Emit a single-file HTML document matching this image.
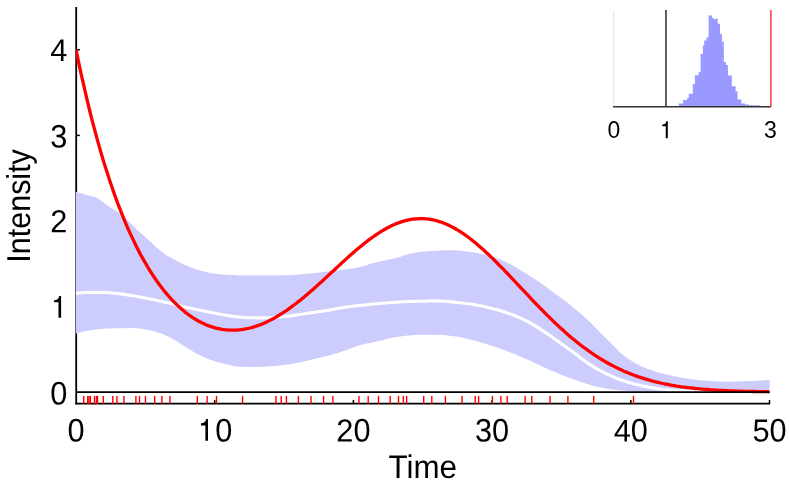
<!DOCTYPE html>
<html><head><meta charset="utf-8"><style>
html,body{margin:0;padding:0;background:#fff;}
svg{display:block;will-change:transform;font-family:"Liberation Sans",sans-serif;}
</style></head><body>
<svg width="789" height="487" viewBox="0 0 789 487">
<rect width="789" height="487" fill="#fff"/>
<defs><clipPath id="c"><rect x="75.8" y="0" width="694.0" height="487"/></clipPath></defs>
<g stroke="#000" stroke-width="1.8" fill="none">
<line x1="76.2" y1="7" x2="76.2" y2="404.3"/>
<line x1="75.3" y1="403.6" x2="770.1" y2="403.6" stroke-width="1.6"/>
</g>
<g stroke="#000" stroke-width="1.5" fill="none"><line x1="214.7" y1="400" x2="214.7" y2="403.6"/><line x1="353.4" y1="400" x2="353.4" y2="403.6"/><line x1="492.1" y1="400" x2="492.1" y2="403.6"/><line x1="630.8" y1="400" x2="630.8" y2="403.6"/><line x1="769.5" y1="400" x2="769.5" y2="403.6"/><line x1="77" y1="306.5" x2="79.8" y2="306.5"/><line x1="77" y1="221.0" x2="79.8" y2="221.0"/><line x1="77" y1="135.4" x2="79.8" y2="135.4"/><line x1="77" y1="49.8" x2="79.8" y2="49.8"/></g>
<path d="M75.8,191.8 L75.8,191.8 L77.8,192.4 L79.8,193.0 L81.8,193.5 L83.8,194.1 L85.8,194.7 L86.5,194.9 L87.8,195.2 L89.8,195.7 L91.8,196.2 L93.8,196.7 L95.8,197.2 L96.6,197.4 L97.8,198.3 L99.8,199.8 L101.8,201.2 L103.0,202.1 L103.8,202.7 L105.8,204.2 L107.8,205.7 L109.8,207.2 L110.6,207.8 L111.8,208.5 L113.8,209.6 L115.8,210.7 L117.8,211.8 L118.8,212.4 L119.8,213.4 L121.8,215.3 L123.2,216.7 L123.8,217.2 L125.8,218.9 L127.8,220.7 L128.3,221.1 L129.8,222.6 L131.8,224.6 L133.8,226.6 L135.8,228.6 L135.9,228.7 L137.8,230.4 L139.8,232.1 L141.8,233.9 L142.2,234.2 L143.8,235.7 L145.8,237.5 L147.8,239.3 L148.8,240.2 L149.8,241.2 L151.8,243.1 L153.8,245.0 L155.8,246.9 L156.5,247.6 L157.8,248.6 L159.8,250.2 L161.8,251.8 L163.8,253.4 L165.3,254.6 L165.8,254.9 L167.8,256.0 L169.8,257.1 L171.8,258.1 L173.0,258.8 L173.8,259.2 L175.8,260.3 L177.8,261.4 L179.8,262.5 L181.8,263.5 L183.8,264.4 L185.8,265.3 L187.8,266.1 L189.8,267.0 L191.8,267.7 L193.8,268.5 L195.8,269.2 L197.8,269.8 L199.8,270.5 L201.8,271.1 L203.8,271.6 L205.8,272.1 L207.8,272.6 L209.8,273.0 L211.8,273.3 L213.8,273.6 L215.8,273.9 L217.8,274.1 L219.8,274.3 L221.8,274.4 L223.8,274.6 L225.8,274.7 L227.8,274.8 L229.8,274.9 L231.8,275.0 L233.8,275.1 L235.8,275.2 L237.8,275.3 L239.8,275.4 L241.8,275.5 L243.8,275.6 L245.8,275.6 L247.8,275.6 L249.8,275.6 L251.8,275.6 L253.8,275.6 L255.8,275.6 L257.8,275.5 L259.8,275.5 L261.8,275.5 L263.8,275.5 L265.8,275.4 L267.8,275.4 L269.8,275.4 L271.8,275.4 L273.8,275.4 L275.8,275.4 L277.8,275.4 L279.8,275.3 L281.8,275.3 L283.8,275.3 L285.8,275.3 L287.8,275.2 L289.8,275.2 L291.8,275.1 L293.8,275.0 L295.8,274.8 L297.8,274.7 L299.8,274.5 L301.8,274.3 L303.8,274.1 L305.8,273.9 L307.8,273.8 L309.8,273.6 L311.8,273.4 L313.8,273.2 L315.8,273.0 L317.8,272.8 L319.8,272.5 L321.8,272.3 L323.8,272.1 L325.8,271.8 L327.8,271.5 L329.8,271.3 L331.8,271.0 L333.8,270.8 L335.8,270.5 L337.8,270.3 L339.8,270.1 L341.8,269.8 L343.8,269.6 L345.8,269.4 L347.8,269.1 L349.8,268.9 L351.8,268.6 L353.8,268.3 L355.8,268.0 L357.8,267.6 L359.8,267.1 L361.8,266.6 L363.8,266.0 L365.8,265.4 L367.8,264.7 L369.8,264.1 L371.8,263.5 L373.8,263.0 L375.8,262.4 L377.8,262.0 L379.8,261.5 L381.8,261.1 L383.8,260.6 L385.8,260.2 L387.8,259.7 L389.8,259.3 L391.8,258.9 L393.8,258.4 L395.8,257.9 L397.8,257.4 L399.8,256.9 L401.8,256.3 L403.8,255.6 L405.8,254.9 L407.8,254.3 L409.8,253.7 L411.8,253.2 L413.8,252.9 L415.8,252.6 L417.8,252.3 L419.8,252.0 L421.8,251.8 L423.8,251.6 L425.8,251.4 L427.8,251.3 L429.8,251.1 L431.8,251.0 L433.8,250.9 L435.8,250.8 L437.8,250.7 L439.8,250.6 L441.8,250.5 L443.8,250.4 L445.8,250.3 L447.8,250.2 L449.8,250.2 L451.8,250.2 L453.8,250.3 L455.8,250.4 L457.8,250.6 L459.8,250.8 L461.8,251.0 L463.8,251.2 L465.8,251.4 L467.8,251.7 L469.8,251.9 L471.8,252.2 L473.8,252.5 L475.8,252.8 L477.8,253.1 L479.8,253.5 L481.8,253.9 L483.8,254.3 L485.8,254.8 L487.8,255.3 L489.8,255.8 L491.8,256.4 L493.8,257.0 L495.8,257.7 L497.8,258.5 L499.8,259.2 L501.8,260.1 L503.8,260.9 L505.8,261.9 L507.8,262.9 L509.8,264.0 L511.8,265.0 L513.8,266.1 L515.8,267.2 L517.8,268.4 L519.8,269.6 L521.8,270.9 L523.8,272.1 L525.8,273.4 L527.8,274.6 L529.8,275.9 L531.8,277.1 L533.8,278.4 L535.8,279.7 L537.8,281.0 L539.8,282.4 L541.8,283.8 L543.8,285.3 L545.8,286.8 L547.8,288.3 L549.8,289.8 L551.8,291.3 L553.8,292.7 L555.8,294.2 L557.8,295.6 L559.8,297.0 L561.8,298.5 L563.8,299.9 L565.8,301.5 L567.8,303.0 L569.8,304.6 L571.8,306.2 L573.8,307.9 L575.8,309.5 L577.8,311.2 L579.8,312.9 L581.8,314.6 L583.8,316.4 L585.8,318.2 L587.8,320.0 L589.8,321.9 L591.8,323.8 L593.8,325.9 L595.8,328.0 L597.8,330.1 L599.8,332.2 L601.8,334.2 L603.8,336.2 L605.8,338.2 L607.8,340.1 L609.8,342.1 L611.8,344.0 L613.8,346.0 L615.8,348.0 L617.8,350.2 L619.8,352.2 L621.8,354.0 L623.8,355.6 L625.8,357.1 L627.8,358.5 L629.8,359.8 L631.8,361.1 L633.8,362.3 L635.8,363.5 L637.8,364.6 L639.8,365.6 L641.8,366.5 L643.8,367.3 L645.8,368.1 L647.8,368.9 L649.8,369.6 L651.8,370.3 L653.8,371.0 L655.8,371.6 L657.8,372.2 L659.8,372.8 L661.8,373.3 L663.8,373.9 L665.8,374.4 L667.8,374.8 L669.8,375.3 L671.8,375.8 L673.8,376.2 L675.8,376.6 L677.8,377.0 L679.8,377.4 L681.8,377.7 L683.8,378.0 L685.8,378.3 L687.8,378.6 L689.8,378.9 L691.8,379.2 L693.8,379.5 L695.8,379.7 L697.8,380.0 L699.8,380.2 L701.8,380.4 L703.8,380.6 L705.8,380.7 L707.8,380.9 L709.8,381.0 L711.8,381.1 L713.8,381.3 L715.8,381.4 L717.8,381.5 L719.8,381.6 L721.8,381.7 L723.8,381.8 L725.8,381.8 L727.8,381.8 L729.8,381.8 L731.8,381.7 L733.8,381.7 L735.8,381.6 L737.8,381.6 L739.8,381.5 L741.8,381.4 L743.8,381.3 L745.8,381.2 L747.8,381.1 L749.8,381.0 L751.8,381.0 L753.8,380.9 L755.8,380.8 L757.8,380.7 L759.8,380.6 L761.8,380.5 L763.8,380.3 L765.8,380.2 L767.8,380.1 L769.7,380.0 L769.7,392.1 L767.8,392.1 L765.8,392.1 L763.8,392.1 L761.8,392.1 L759.8,392.1 L757.8,392.1 L755.8,392.1 L753.8,392.1 L751.8,392.1 L749.8,392.1 L747.8,392.1 L745.8,392.1 L743.8,392.1 L741.8,392.1 L739.8,392.1 L737.8,392.1 L735.8,392.1 L733.8,392.1 L731.8,392.1 L729.8,392.1 L727.8,392.1 L725.8,392.1 L723.8,392.1 L721.8,392.0 L719.8,392.0 L717.8,392.0 L715.8,392.0 L713.8,392.0 L711.8,392.0 L709.8,392.0 L707.8,392.0 L705.8,392.0 L703.8,392.0 L701.8,392.0 L699.8,392.0 L697.8,392.0 L695.8,392.0 L693.8,392.0 L691.8,391.9 L689.8,391.9 L687.8,391.9 L685.8,391.9 L683.8,391.9 L681.8,391.9 L679.8,391.9 L677.8,391.9 L675.8,391.9 L673.8,391.9 L671.8,391.8 L669.8,391.8 L667.8,391.8 L665.8,391.8 L663.8,391.8 L661.8,391.8 L659.8,391.8 L657.8,391.7 L655.8,391.7 L653.8,391.7 L651.8,391.7 L649.8,391.7 L647.8,391.7 L645.8,391.7 L643.8,391.6 L641.8,391.6 L639.8,391.6 L637.8,391.6 L635.8,391.5 L633.8,391.4 L631.8,391.3 L629.8,391.1 L627.8,391.0 L625.8,390.8 L623.8,390.7 L621.8,390.5 L619.8,390.3 L617.8,390.1 L615.8,389.9 L613.8,389.6 L611.8,389.4 L609.8,389.1 L607.8,388.8 L605.8,388.4 L603.8,388.1 L601.8,387.7 L599.8,387.3 L597.8,386.9 L595.8,386.4 L593.8,385.9 L591.8,385.4 L589.8,384.8 L587.8,384.2 L585.8,383.5 L583.8,382.9 L581.8,382.2 L579.8,381.5 L577.8,380.8 L575.8,380.1 L573.8,379.4 L571.8,378.7 L569.8,377.9 L567.8,377.2 L565.8,376.4 L563.8,375.6 L561.8,374.9 L559.8,374.1 L557.8,373.3 L555.8,372.4 L553.8,371.6 L551.8,370.8 L549.8,369.9 L547.8,369.0 L545.8,368.1 L543.8,367.2 L541.8,366.2 L539.8,365.3 L537.8,364.3 L535.8,363.4 L533.8,362.4 L531.8,361.5 L529.8,360.6 L527.8,359.7 L525.8,358.8 L523.8,358.0 L521.8,357.1 L519.8,356.3 L517.8,355.4 L515.8,354.6 L513.8,353.8 L511.8,353.0 L509.8,352.2 L507.8,351.4 L505.8,350.7 L503.8,349.9 L501.8,349.2 L499.8,348.5 L497.8,347.8 L495.8,347.1 L493.8,346.5 L491.8,345.8 L489.8,345.2 L487.8,344.6 L485.8,344.0 L483.8,343.3 L481.8,342.8 L479.8,342.2 L477.8,341.6 L475.8,341.0 L473.8,340.4 L471.8,339.9 L469.8,339.4 L467.8,338.9 L465.8,338.4 L463.8,337.9 L461.8,337.5 L459.8,337.1 L457.8,336.8 L455.8,336.5 L453.8,336.2 L451.8,335.9 L449.8,335.7 L447.8,335.5 L445.8,335.3 L443.8,335.2 L441.8,335.1 L439.8,335.0 L437.8,334.9 L435.8,334.8 L433.8,334.8 L431.8,334.8 L429.8,334.8 L427.8,334.8 L425.8,334.8 L423.8,334.8 L421.8,334.8 L419.8,334.8 L417.8,334.8 L415.8,334.9 L413.8,335.1 L411.8,335.2 L409.8,335.4 L407.8,335.6 L405.8,335.8 L403.8,336.0 L401.8,336.2 L399.8,336.5 L397.8,336.7 L395.8,337.0 L393.8,337.4 L391.8,337.8 L389.8,338.3 L387.8,338.8 L385.8,339.3 L383.8,339.9 L381.8,340.4 L379.8,340.8 L377.8,341.3 L375.8,341.7 L373.8,342.1 L371.8,342.5 L369.8,342.9 L367.8,343.3 L365.8,343.7 L363.8,344.2 L361.8,344.7 L359.8,345.2 L357.8,345.8 L355.8,346.5 L353.8,347.2 L351.8,347.9 L349.8,348.7 L347.8,349.4 L345.8,350.2 L343.8,350.9 L341.8,351.6 L339.8,352.3 L337.8,353.0 L335.8,353.6 L333.8,354.1 L331.8,354.7 L329.8,355.2 L327.8,355.7 L325.8,356.2 L323.8,356.7 L321.8,357.2 L319.8,357.7 L317.8,358.2 L315.8,358.6 L313.8,359.1 L311.8,359.6 L309.8,360.0 L307.8,360.5 L305.8,360.9 L303.8,361.4 L301.8,361.8 L299.8,362.3 L297.8,362.7 L295.8,363.1 L293.8,363.5 L291.8,363.9 L289.8,364.3 L287.8,364.6 L285.8,364.8 L283.8,365.1 L281.8,365.3 L279.8,365.5 L277.8,365.7 L275.8,365.9 L273.8,366.0 L271.8,366.2 L269.8,366.3 L267.8,366.5 L265.8,366.6 L263.8,366.8 L261.8,366.9 L259.8,366.9 L257.8,366.9 L255.8,366.9 L253.8,366.9 L251.8,366.9 L249.8,366.9 L247.8,366.9 L245.8,366.8 L243.8,366.8 L241.8,366.8 L239.8,366.7 L237.8,366.5 L235.8,366.2 L233.8,365.9 L231.8,365.5 L229.8,365.1 L227.8,364.7 L225.8,364.2 L223.8,363.7 L221.8,363.3 L219.8,362.8 L217.8,362.2 L215.8,361.6 L213.8,360.9 L211.8,360.2 L209.8,359.5 L207.8,358.7 L205.8,357.9 L203.8,357.1 L201.8,356.2 L199.8,355.3 L197.8,354.2 L195.8,353.2 L193.8,352.0 L191.8,350.8 L189.8,349.6 L187.8,348.3 L185.8,347.1 L183.8,345.9 L181.8,344.6 L179.8,343.3 L177.8,342.0 L175.8,340.7 L173.8,339.4 L171.8,338.3 L169.8,337.3 L167.8,336.3 L165.8,335.4 L163.8,334.6 L161.8,333.8 L159.8,333.1 L157.8,332.4 L155.8,331.8 L153.8,331.2 L151.8,330.7 L149.8,330.2 L147.8,329.8 L145.8,329.5 L143.8,329.2 L141.8,328.8 L139.8,328.6 L137.8,328.3 L135.8,328.2 L133.8,328.1 L131.8,328.1 L129.8,328.1 L127.8,328.1 L125.8,328.1 L123.8,328.2 L121.8,328.2 L119.8,328.2 L117.8,328.2 L115.8,328.3 L113.8,328.3 L111.8,328.4 L109.8,328.4 L107.8,328.5 L105.8,328.6 L103.8,328.7 L101.8,328.9 L99.8,329.1 L97.8,329.3 L95.8,329.5 L93.8,329.8 L91.8,330.1 L89.8,330.4 L87.8,330.7 L85.8,331.1 L83.8,331.5 L81.8,331.9 L79.8,332.4 L77.8,333.0 L75.8,333.6Z" fill="#ccccfd"/>
<path d="M76.0,293.3 L78.0,293.1 L80.0,292.9 L82.0,292.7 L84.0,292.6 L86.0,292.5 L88.0,292.4 L90.0,292.4 L92.0,292.4 L94.0,292.4 L96.0,292.4 L98.0,292.4 L100.0,292.4 L102.0,292.4 L104.0,292.4 L106.0,292.5 L108.0,292.7 L110.0,292.8 L112.0,293.0 L114.0,293.2 L116.0,293.4 L118.0,293.6 L120.0,293.9 L122.0,294.1 L124.0,294.4 L126.0,294.7 L128.0,295.1 L130.0,295.4 L132.0,295.7 L134.0,296.0 L136.0,296.3 L138.0,296.7 L140.0,297.1 L142.0,297.4 L144.0,297.8 L146.0,298.2 L148.0,298.6 L150.0,299.0 L152.0,299.4 L154.0,299.8 L156.0,300.2 L158.0,300.7 L160.0,301.1 L162.0,301.5 L164.0,301.9 L166.0,302.4 L168.0,302.8 L170.0,303.3 L172.0,303.8 L174.0,304.2 L176.0,304.8 L178.0,305.3 L180.0,305.8 L182.0,306.3 L184.0,306.7 L186.0,307.2 L188.0,307.7 L190.0,308.1 L192.0,308.5 L194.0,309.0 L196.0,309.4 L198.0,309.8 L200.0,310.2 L202.0,310.6 L204.0,311.0 L206.0,311.4 L208.0,311.8 L210.0,312.2 L212.0,312.6 L214.0,313.0 L216.0,313.4 L218.0,313.8 L220.0,314.2 L222.0,314.6 L224.0,314.9 L226.0,315.3 L228.0,315.6 L230.0,315.9 L232.0,316.2 L234.0,316.5 L236.0,316.7 L238.0,316.9 L240.0,317.1 L242.0,317.3 L244.0,317.4 L246.0,317.5 L248.0,317.6 L250.0,317.7 L252.0,317.8 L254.0,317.8 L256.0,317.9 L258.0,317.9 L260.0,317.9 L262.0,317.9 L264.0,317.8 L266.0,317.8 L268.0,317.7 L270.0,317.6 L272.0,317.5 L274.0,317.4 L276.0,317.3 L278.0,317.1 L280.0,316.9 L282.0,316.7 L284.0,316.5 L286.0,316.3 L288.0,316.1 L290.0,315.9 L292.0,315.6 L294.0,315.4 L296.0,315.1 L298.0,314.8 L300.0,314.5 L302.0,314.2 L304.0,313.8 L306.0,313.5 L308.0,313.2 L310.0,312.9 L312.0,312.6 L314.0,312.4 L316.0,312.1 L318.0,311.8 L320.0,311.5 L322.0,311.2 L324.0,310.9 L326.0,310.5 L328.0,310.2 L330.0,309.9 L332.0,309.5 L334.0,309.2 L336.0,308.8 L338.0,308.4 L340.0,308.1 L342.0,307.7 L344.0,307.4 L346.0,307.1 L348.0,306.8 L350.0,306.6 L352.0,306.3 L354.0,306.1 L356.0,305.8 L358.0,305.6 L360.0,305.4 L362.0,305.2 L364.0,305.0 L366.0,304.8 L368.0,304.6 L370.0,304.4 L372.0,304.2 L374.0,304.0 L376.0,303.8 L378.0,303.7 L380.0,303.5 L382.0,303.3 L384.0,303.2 L386.0,303.0 L388.0,302.8 L390.0,302.6 L392.0,302.5 L394.0,302.3 L396.0,302.2 L398.0,302.1 L400.0,301.9 L402.0,301.8 L404.0,301.7 L406.0,301.6 L408.0,301.5 L410.0,301.5 L412.0,301.4 L414.0,301.4 L416.0,301.4 L418.0,301.3 L420.0,301.3 L422.0,301.2 L424.0,301.2 L426.0,301.1 L428.0,301.0 L430.0,300.9 L432.0,300.9 L434.0,300.9 L436.0,300.9 L438.0,301.0 L440.0,301.1 L442.0,301.1 L444.0,301.2 L446.0,301.3 L448.0,301.5 L450.0,301.7 L452.0,301.9 L454.0,302.1 L456.0,302.4 L458.0,302.6 L460.0,302.8 L462.0,303.0 L464.0,303.3 L466.0,303.5 L468.0,303.7 L470.0,304.0 L472.0,304.3 L474.0,304.6 L476.0,305.0 L478.0,305.3 L480.0,305.7 L482.0,306.1 L484.0,306.5 L486.0,307.0 L488.0,307.4 L490.0,307.9 L492.0,308.4 L494.0,308.9 L496.0,309.4 L498.0,310.0 L500.0,310.5 L502.0,311.2 L504.0,311.8 L506.0,312.5 L508.0,313.2 L510.0,313.9 L512.0,314.6 L514.0,315.4 L516.0,316.2 L518.0,317.0 L520.0,317.9 L522.0,318.7 L524.0,319.7 L526.0,320.6 L528.0,321.7 L530.0,322.8 L532.0,323.9 L534.0,325.1 L536.0,326.4 L538.0,327.6 L540.0,328.9 L542.0,330.2 L544.0,331.5 L546.0,332.9 L548.0,334.2 L550.0,335.6 L552.0,337.0 L554.0,338.4 L556.0,339.9 L558.0,341.3 L560.0,342.7 L562.0,344.2 L564.0,345.6 L566.0,347.1 L568.0,348.5 L570.0,349.9 L572.0,351.3 L574.0,352.8 L576.0,354.3 L578.0,355.8 L580.0,357.5 L582.0,359.1 L584.0,360.5 L586.0,362.0 L588.0,363.3 L590.0,364.6 L592.0,365.9 L594.0,367.1 L596.0,368.3 L598.0,369.4 L600.0,370.5 L602.0,371.6 L604.0,372.6 L606.0,373.6 L608.0,374.5 L610.0,375.4 L612.0,376.3 L614.0,377.2 L616.0,378.1 L618.0,378.9 L620.0,379.7 L622.0,380.3 L624.0,381.0 L626.0,381.6 L628.0,382.2 L630.0,382.8 L632.0,383.3 L634.0,383.9 L636.0,384.4 L638.0,384.8 L640.0,385.3 L642.0,385.8 L644.0,386.2 L646.0,386.6 L648.0,387.0 L650.0,387.4 L652.0,387.7 L654.0,388.1 L656.0,388.4 L658.0,388.7 L660.0,389.0 L662.0,389.2 L664.0,389.5 L666.0,389.7 L668.0,389.9 L670.0,390.1 L672.0,390.3 L674.0,390.4 L676.0,390.5 L678.0,390.7 L680.0,390.8 L682.0,390.9 L684.0,391.0 L686.0,391.1 L688.0,391.1 L690.0,391.2 L692.0,391.3 L694.0,391.3 L696.0,391.3 L698.0,391.4 L700.0,391.4 L702.0,391.5 L704.0,391.5 L706.0,391.5 L708.0,391.6 L710.0,391.6 L712.0,391.6 L714.0,391.6 L716.0,391.7 L718.0,391.7 L720.0,391.7 L722.0,391.7 L724.0,391.7 L726.0,391.7 L728.0,391.8 L730.0,391.8 L732.0,391.8 L734.0,391.8 L736.0,391.8 L738.0,391.8 L740.0,391.8 L742.0,391.8 L744.0,391.8 L746.0,391.8 L748.0,391.9 L750.0,391.9 L752.0,391.9 L754.0,391.9 L756.0,391.9 L758.0,391.9 L760.0,391.9 L762.0,391.9 L764.0,391.9 L766.0,391.9 L768.0,391.9 L769.7,391.9" fill="none" stroke="#fff" stroke-width="3.1" stroke-linejoin="round"/>
<path clip-path="url(#c)" d="M76.0,49.5 L78.3,60.7 L80.6,71.6 L83.0,82.1 L85.3,92.2 L87.6,102.0 L89.9,111.5 L92.2,120.7 L94.6,129.5 L96.9,138.1 L99.2,146.4 L101.5,154.4 L103.8,162.1 L106.2,169.6 L108.5,176.8 L110.8,183.8 L113.1,190.5 L115.4,197.0 L117.7,203.3 L120.1,209.3 L122.4,215.2 L124.7,220.8 L127.0,226.3 L129.3,231.5 L131.7,236.6 L134.0,241.5 L136.3,246.2 L138.6,250.8 L140.9,255.2 L143.3,259.4 L145.6,263.4 L147.9,267.4 L150.2,271.1 L152.5,274.7 L154.9,278.2 L157.2,281.6 L159.5,284.8 L161.8,287.8 L164.1,290.8 L166.5,293.6 L168.8,296.3 L171.1,298.9 L173.4,301.3 L175.7,303.7 L178.1,305.9 L180.4,308.0 L182.7,310.1 L185.0,312.0 L187.3,313.8 L189.7,315.5 L192.0,317.1 L194.3,318.6 L196.6,320.0 L198.9,321.3 L201.2,322.5 L203.6,323.6 L205.9,324.7 L208.2,325.6 L210.5,326.4 L212.8,327.2 L215.2,327.9 L217.5,328.5 L219.8,328.9 L222.1,329.4 L224.4,329.7 L226.8,329.9 L229.1,330.1 L231.4,330.2 L233.7,330.2 L236.0,330.1 L238.4,329.9 L240.7,329.7 L243.0,329.4 L245.3,329.0 L247.6,328.5 L250.0,328.0 L252.3,327.4 L254.6,326.7 L256.9,325.9 L259.2,325.1 L261.6,324.2 L263.9,323.2 L266.2,322.2 L268.5,321.1 L270.8,319.9 L273.1,318.7 L275.5,317.4 L277.8,316.0 L280.1,314.6 L282.4,313.2 L284.7,311.6 L287.1,310.1 L289.4,308.4 L291.7,306.7 L294.0,305.0 L296.3,303.2 L298.7,301.4 L301.0,299.6 L303.3,297.7 L305.6,295.7 L307.9,293.8 L310.3,291.8 L312.6,289.7 L314.9,287.7 L317.2,285.6 L319.5,283.5 L321.9,281.4 L324.2,279.3 L326.5,277.1 L328.8,275.0 L331.1,272.8 L333.5,270.7 L335.8,268.5 L338.1,266.4 L340.4,264.2 L342.7,262.1 L345.1,260.0 L347.4,257.9 L349.7,255.8 L352.0,253.8 L354.3,251.7 L356.6,249.8 L359.0,247.8 L361.3,245.9 L363.6,244.0 L365.9,242.2 L368.2,240.4 L370.6,238.7 L372.9,237.0 L375.2,235.4 L377.5,233.8 L379.8,232.3 L382.2,230.9 L384.5,229.5 L386.8,228.2 L389.1,227.0 L391.4,225.8 L393.8,224.8 L396.1,223.8 L398.4,222.9 L400.7,222.1 L403.0,221.3 L405.4,220.7 L407.7,220.1 L410.0,219.6 L412.3,219.2 L414.6,219.0 L417.0,218.8 L419.3,218.6 L421.6,218.6 L423.9,218.7 L426.2,218.9 L428.5,219.1 L430.9,219.5 L433.2,219.9 L435.5,220.5 L437.8,221.1 L440.1,221.8 L442.5,222.6 L444.8,223.5 L447.1,224.5 L449.4,225.6 L451.7,226.8 L454.1,228.0 L456.4,229.3 L458.7,230.7 L461.0,232.2 L463.3,233.7 L465.7,235.3 L468.0,237.0 L470.3,238.8 L472.6,240.6 L474.9,242.5 L477.3,244.4 L479.6,246.4 L481.9,248.4 L484.2,250.5 L486.5,252.7 L488.9,254.8 L491.2,257.1 L493.5,259.3 L495.8,261.6 L498.1,264.0 L500.4,266.3 L502.8,268.7 L505.1,271.1 L507.4,273.5 L509.7,275.9 L512.0,278.4 L514.4,280.9 L516.7,283.3 L519.0,285.8 L521.3,288.3 L523.6,290.7 L526.0,293.2 L528.3,295.7 L530.6,298.1 L532.9,300.6 L535.2,303.0 L537.6,305.4 L539.9,307.8 L542.2,310.2 L544.5,312.5 L546.8,314.8 L549.2,317.1 L551.5,319.4 L553.8,321.7 L556.1,323.9 L558.4,326.0 L560.8,328.2 L563.1,330.3 L565.4,332.4 L567.7,334.4 L570.0,336.4 L572.4,338.4 L574.7,340.3 L577.0,342.2 L579.3,344.0 L581.6,345.8 L583.9,347.5 L586.3,349.2 L588.6,350.9 L590.9,352.5 L593.2,354.1 L595.5,355.7 L597.9,357.2 L600.2,358.6 L602.5,360.0 L604.8,361.4 L607.1,362.7 L609.5,364.0 L611.8,365.2 L614.1,366.4 L616.4,367.6 L618.7,368.7 L621.1,369.8 L623.4,370.9 L625.7,371.9 L628.0,372.8 L630.3,373.8 L632.7,374.7 L635.0,375.5 L637.3,376.4 L639.6,377.2 L641.9,377.9 L644.3,378.6 L646.6,379.3 L648.9,380.0 L651.2,380.7 L653.5,381.3 L655.8,381.9 L658.2,382.4 L660.5,383.0 L662.8,383.5 L665.1,384.0 L667.4,384.4 L669.8,384.9 L672.1,385.3 L674.4,385.7 L676.7,386.1 L679.0,386.4 L681.4,386.8 L683.7,387.1 L686.0,387.4 L688.3,387.7 L690.6,387.9 L693.0,388.2 L695.3,388.5 L697.6,388.7 L699.9,388.9 L702.2,389.1 L704.6,389.3 L706.9,389.5 L709.2,389.7 L711.5,389.8 L713.8,390.0 L716.2,390.1 L718.5,390.3 L720.8,390.4 L723.1,390.5 L725.4,390.6 L727.8,390.7 L730.1,390.8 L732.4,390.9 L734.7,391.0 L737.0,391.1 L739.3,391.1 L741.7,391.2 L744.0,391.3 L746.3,391.3 L748.6,391.4 L750.9,391.4 L753.3,391.5 L755.6,391.5 L757.9,391.6 L760.2,391.6 L762.5,391.7 L764.9,391.7 L767.2,391.7 L769.5,391.8" fill="none" stroke="#f00" stroke-width="3.3" stroke-linejoin="round"/>
<line x1="76" y1="392.1" x2="769.7" y2="392.1" stroke="#000" stroke-width="1.6"/>
<g stroke="#f00" stroke-width="1.4"><line x1="83.7" y1="395.9" x2="83.7" y2="403.8"/><line x1="87.7" y1="395.9" x2="87.7" y2="403.8"/><line x1="89.0" y1="395.9" x2="89.0" y2="403.8"/><line x1="90.3" y1="395.9" x2="90.3" y2="403.8"/><line x1="94.5" y1="395.9" x2="94.5" y2="403.8"/><line x1="96.4" y1="395.9" x2="96.4" y2="403.8"/><line x1="97.5" y1="395.9" x2="97.5" y2="403.8"/><line x1="103.3" y1="395.9" x2="103.3" y2="403.8"/><line x1="112.8" y1="395.9" x2="112.8" y2="403.8"/><line x1="116.9" y1="395.9" x2="116.9" y2="403.8"/><line x1="123.9" y1="395.9" x2="123.9" y2="403.8"/><line x1="135.9" y1="395.9" x2="135.9" y2="403.8"/><line x1="139.5" y1="395.9" x2="139.5" y2="403.8"/><line x1="145.5" y1="395.9" x2="145.5" y2="403.8"/><line x1="154.7" y1="395.9" x2="154.7" y2="403.8"/><line x1="161.9" y1="395.9" x2="161.9" y2="403.8"/><line x1="170" y1="395.9" x2="170" y2="403.8"/><line x1="197.3" y1="395.9" x2="197.3" y2="403.8"/><line x1="207.1" y1="395.9" x2="207.1" y2="403.8"/><line x1="216.5" y1="395.9" x2="216.5" y2="403.8"/><line x1="242.6" y1="395.9" x2="242.6" y2="403.8"/><line x1="275.9" y1="395.9" x2="275.9" y2="403.8"/><line x1="281.2" y1="395.9" x2="281.2" y2="403.8"/><line x1="286.4" y1="395.9" x2="286.4" y2="403.8"/><line x1="298.4" y1="395.9" x2="298.4" y2="403.8"/><line x1="311" y1="395.9" x2="311" y2="403.8"/><line x1="323.6" y1="395.9" x2="323.6" y2="403.8"/><line x1="332.9" y1="395.9" x2="332.9" y2="403.8"/><line x1="359" y1="395.9" x2="359" y2="403.8"/><line x1="368.2" y1="395.9" x2="368.2" y2="403.8"/><line x1="378.5" y1="395.9" x2="378.5" y2="403.8"/><line x1="390.2" y1="395.9" x2="390.2" y2="403.8"/><line x1="398.5" y1="395.9" x2="398.5" y2="403.8"/><line x1="403.4" y1="395.9" x2="403.4" y2="403.8"/><line x1="406.6" y1="395.9" x2="406.6" y2="403.8"/><line x1="423.7" y1="395.9" x2="423.7" y2="403.8"/><line x1="431.8" y1="395.9" x2="431.8" y2="403.8"/><line x1="445.4" y1="395.9" x2="445.4" y2="403.8"/><line x1="462" y1="395.9" x2="462" y2="403.8"/><line x1="475.2" y1="395.9" x2="475.2" y2="403.8"/><line x1="478.6" y1="395.9" x2="478.6" y2="403.8"/><line x1="492.4" y1="395.9" x2="492.4" y2="403.8"/><line x1="500.9" y1="395.9" x2="500.9" y2="403.8"/><line x1="507.2" y1="395.9" x2="507.2" y2="403.8"/><line x1="525.1" y1="395.9" x2="525.1" y2="403.8"/><line x1="531.8" y1="395.9" x2="531.8" y2="403.8"/><line x1="550" y1="395.9" x2="550" y2="403.8"/><line x1="567.9" y1="395.9" x2="567.9" y2="403.8"/><line x1="593.7" y1="395.9" x2="593.7" y2="403.8"/><line x1="633.5" y1="395.9" x2="633.5" y2="403.8"/></g>
<g font-size="30" fill="#000"><text transform="translate(67.45,441.60) rotate(0.03) scale(1.025,1.085)" text-anchor="start">0</text><path d="M208.00,440.75 L208.00,418.95 L206.12,418.95 Q205.65,422.96 201.02,423.31 L201.02,425.38 L205.38,425.38 L205.38,440.75Z" fill="#000"/><text transform="translate(215.20,441.60) rotate(0.03) scale(1.025,1.085)" text-anchor="start">0</text><text transform="translate(336.30,441.60) rotate(0.03) scale(1.025,1.06)" text-anchor="start">2</text><text transform="translate(353.40,441.60) rotate(0.03) scale(1.025,1.085)" text-anchor="start">0</text><text transform="translate(475.00,441.60) rotate(0.03) scale(1.025,1.085)" text-anchor="start">3</text><text transform="translate(492.10,441.60) rotate(0.03) scale(1.025,1.085)" text-anchor="start">0</text><text transform="translate(613.70,441.60) rotate(0.03) scale(1.025,1.047)" text-anchor="start">4</text><text transform="translate(630.80,441.60) rotate(0.03) scale(1.025,1.085)" text-anchor="start">0</text><text transform="translate(752.40,441.60) rotate(0.03) scale(1.025,1.065)" text-anchor="start">5</text><text transform="translate(769.50,441.60) rotate(0.03) scale(1.025,1.085)" text-anchor="start">0</text><text transform="translate(50.30,404.40) rotate(0.03) scale(1.025,1.085)" text-anchor="start">0</text><path d="M61.10,317.73 L61.10,295.93 L59.22,295.93 Q58.75,299.94 54.12,300.29 L54.12,302.36 L58.48,302.36 L58.48,317.73Z" fill="#000"/><text transform="translate(50.30,232.37) rotate(0.03) scale(1.025,1.06)" text-anchor="start">2</text><text transform="translate(50.30,147.43) rotate(0.03) scale(1.025,1.085)" text-anchor="start">3</text><text transform="translate(50.30,60.94) rotate(0.03) scale(1.025,1.047)" text-anchor="start">4</text>
<text transform="translate(422.80,478.00) rotate(0.03) scale(1.045,1.09)" text-anchor="middle">Time</text>
<text transform="translate(30,205.9) rotate(-90.03) scale(1.016,1.1)" text-anchor="middle">Intensity</text>
</g>
<!-- inset -->
<path d="M678.9,106.3 L678.9,103.5 L683.1,103.5 L683.1,100 L687.1,100 L687.1,98.1 L688.8,98.1 L688.8,93.8 L692.8,93.8 L692.8,84.1 L694.9,84.1 L694.9,75.3 L698.5,75.3 L698.5,72.3 L700.6,72.3 L700.6,54 L702.9,54 L702.9,45.5 L704.2,45.5 L704.2,40.4 L706.5,40.4 L706.5,37.2 L708.6,37.2 L708.6,15.5 L712,15.5 L712,18.1 L714.0,18.1 L714.0,19.8 L715.0,19.8 L715.0,18.8 L717.7,18.8 L717.7,23.8 L720,23.8 L720,34.1 L721.9,34.1 L721.9,41.7 L723.8,41.7 L723.8,62.1 L725.9,62.1 L725.9,65 L727.9,65 L727.9,75.5 L731.8,75.5 L731.8,86.2 L735.6,86.2 L735.6,91.3 L737.5,91.3 L737.5,99.5 L741.3,99.5 L741.3,103.5 L745,103.5 L745,104.5 L749,104.5 L749,105.2 L760,105.2 L760,106.3Z" fill="#9999ff"/>
<line x1="613.6" y1="10" x2="613.6" y2="106.5" stroke="#e8e8e8" stroke-width="1.2"/>
<line x1="665.95" y1="10" x2="665.95" y2="106.5" stroke="#505050" stroke-width="1.8"/>
<line x1="770.85" y1="10" x2="770.85" y2="107.3" stroke="#ff5050" stroke-width="1.7"/>
<line x1="613" y1="106.7" x2="770.5" y2="106.7" stroke="#333" stroke-width="1.6"/>
<g font-size="22" fill="#000" text-anchor="middle">
<text transform="translate(613.80,137.80) rotate(0.03) scale(1.04,1.085)" text-anchor="middle">0</text><path d="M667.80,138.30 L667.80,121.20 L666.32,121.20 Q665.95,124.35 662.33,124.62 L662.33,126.24 L665.75,126.24 L665.75,138.30Z" fill="#000"/><text transform="translate(770.50,137.80) rotate(0.03) scale(1.05,1.085)" text-anchor="middle">3</text>
</g>
</svg>
</body></html>
